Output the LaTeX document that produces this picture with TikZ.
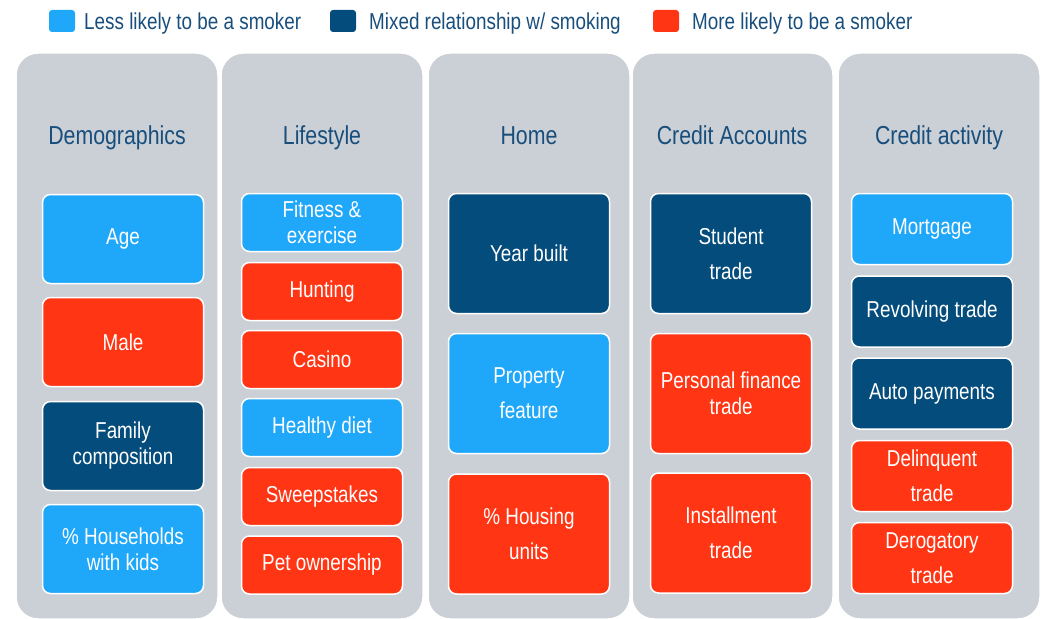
\documentclass[tikz,border=0pt]{standalone}
\usepackage{fontspec}
\setmainfont[FakeStretch=0.82]{Liberation Sans}
\usepackage{tikz}
\definecolor{lessblue}{RGB}{31,167,250}
\definecolor{mixblue}{RGB}{4,76,124}
\definecolor{morered}{RGB}{255,53,20}
\definecolor{colgray}{RGB}{203,208,214}
\definecolor{titleblue}{RGB}{24,78,124}
\tikzset{
	column/.style={fill=colgray,draw=white,line width=1.5pt,rounded corners=22pt},
	coltitle/.style={text=titleblue,font=\fontsize{26}{30}\selectfont,text height=19pt,text depth=5pt},
	box/.style={draw=white,line width=1.5pt,rounded corners=8pt,minimum width=161pt,inner sep=0pt,align=center,text=white,font=\fontsize{23}{26}\selectfont},
	less/.style={box,fill=lessblue},
	mixed/.style={box,fill=mixblue},
	more/.style={box,fill=morered},
	loose/.style={font=\fontsize{23}{35}\selectfont},
	keybox/.style={rounded corners=3pt,minimum width=26pt,minimum height=22pt,inner sep=0pt},
	keytext/.style={text=titleblue,font=\fontsize{23}{26}\selectfont,anchor=west,inner sep=0pt,text height=17pt,text depth=5pt},
}

\begin{document}
\begin{tikzpicture}[x=1pt,y=-1pt] % 像素坐标
				\useasboundingbox (0,0) rectangle (1043,618);
				% 图例
				\node[keybox,fill=lessblue](KLess) at (62,21) {};
				\node[keytext](LLess) at (84,24) {Less likely to be a smoker};
				\node[keybox,fill=mixblue](KMixed) at (343,21) {};
				\node[keytext](LMixed) at (369,24) {Mixed relationship w/ smoking};
				\node[keybox,fill=morered](KMore) at (666,21) {};
				\node[keytext](LMore) at (692,24) {More likely to be a smoker};
				% 五列
				\draw[column] (16,53) rectangle (218,619);
				\draw[column] (221,53) rectangle (423,619);
				\draw[column] (428,53) rectangle (630,619);
				\draw[column] (632,53) rectangle (833,619);
				\draw[column] (838,53) rectangle (1040,619);
				\node[coltitle](TDemo) at (117,137) {Demographics};
				\node[coltitle](TLife) at (322,137) {Lifestyle};
				\node[coltitle](THome) at (529,137) {Home};
				\node[coltitle](TAccounts) at (732,137) {Credit Accounts};
				\node[coltitle](TActivity) at (939,137) {Credit activity};
				% Demographics
				\node[less,minimum height=89pt](Age) at (123,239) {Age};
				\node[more,minimum height=89pt](Male) at (123,342) {Male};
				\node[mixed,minimum height=89pt](Family) at (123,446) {Family\\composition};
				\node[less,minimum height=89pt](Households) at (123,549) {\% Households\\with kids};
				% Lifestyle
				\node[less,minimum height=58pt](Fitness) at (322,222.5) {Fitness \&\\exercise};
				\node[more,minimum height=58pt](Hunting) at (322,291.5) {Hunting};
				\node[more,minimum height=58pt](Casino) at (322,359.5) {Casino};
				\node[less,minimum height=58pt](Diet) at (322,427.5) {Healthy diet};
				\node[more,minimum height=58pt](Sweep) at (322,496.5) {Sweepstakes};
				\node[more,minimum height=58pt](Pet) at (322,565) {Pet ownership};
				% Home
				\node[mixed,minimum height=120pt](YearBuilt) at (529,253.5) {Year built};
				\node[less,loose,minimum height=120pt](Property) at (529,393.5) {Property\\feature};
				\node[more,loose,minimum height=120pt](Housing) at (529,534) {\% Housing\\units};
				% Credit Accounts
				\node[mixed,loose,minimum height=120pt](Student) at (731,253.5) {Student\\trade};
				\node[more,minimum height=120pt](Personal) at (731,393.5) {Personal finance\\trade};
				\node[more,loose,minimum height=120pt](Installment) at (731,533) {Installment\\trade};
				% Credit activity
				\node[less,minimum height=71pt](Mortgage) at (932,229) {Mortgage};
				\node[mixed,minimum height=71pt](Revolving) at (932,311.5) {Revolving trade};
				\node[mixed,minimum height=71pt](Auto) at (932,393.5) {Auto payments};
				\node[more,loose,minimum height=71pt](Delinquent) at (932,476) {Delinquent\\trade};
				\node[more,loose,minimum height=71pt](Derogatory) at (932,558) {Derogatory\\trade};
			\end{tikzpicture}
\end{document}
